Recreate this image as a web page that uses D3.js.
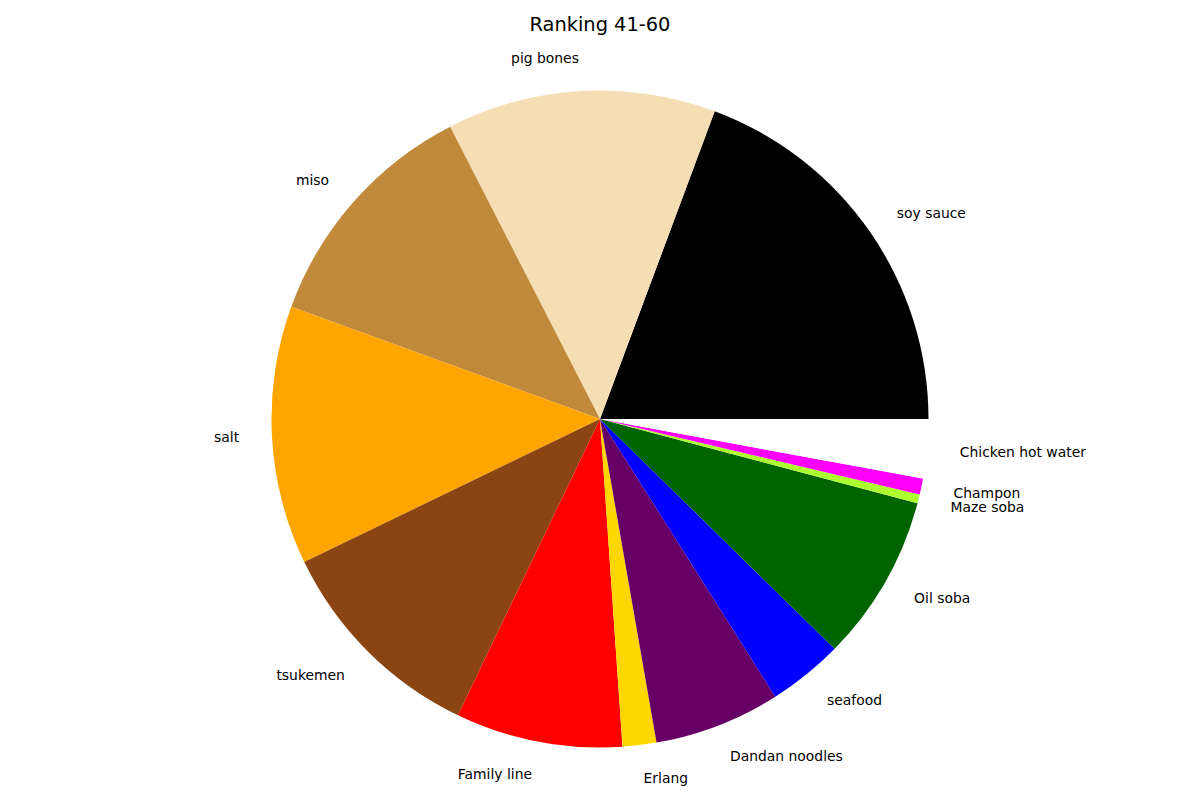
<!DOCTYPE html>
<html>
<head>
<meta charset="utf-8">
<script src="https://cdn.jsdelivr.net/npm/d3@7"></script>
<style>
  body { margin: 0; background: #fff; }
  text { font-family: "DejaVu Sans", sans-serif; }
</style>
</head>
<body>
<div id="chart"></div>
<script>
var labels = ["soy sauce", "pig bones", "miso", "salt", "tsukemen", "Family line", "Erlang",
    "Dandan noodles", "seafood", "Oil soba", "Maze soba", "Champon", "Chicken hot water"];
var shares = [19.3, 13.2, 11.9, 12.7, 10.7, 8.2, 1.66, 6.2, 3.7, 8.2, 0.43, 0.79, 2.9];
var colors = ["#000000", "#f5deb3", "#c08a3a", "#ffa500", "#8b4513", "#ff0000", "#ffd700",
    "#660066", "#0000ff", "#006400", "#adff2f", "#ff00ff", "#ffffff"];

var width = 1200, height = 800;
var cx = 600, cy = 419, radius = 328.5;

var svg = d3.select("#chart").append("svg")
    .attr("width", width).attr("height", height);

svg.append("text")
    .attr("x", width / 2).attr("y", 31)
    .attr("text-anchor", "middle")
    .style("font-size", "19.4px")
    .text("Ranking 41-60");

var data = labels.map(function(d, i) { return {label: d, value: shares[i], color: colors[i]}; });

// counter-clockwise from 3 o'clock, like matplotlib
var pie = d3.pie().sort(null).value(d => d.value)
    .startAngle(Math.PI / 2).endAngle(Math.PI / 2 - 2 * Math.PI);

var arc = d3.arc().innerRadius(0).outerRadius(radius);

var g = svg.append("g").attr("transform", "translate(" + cx + "," + cy + ")");

var arcs = pie(data);

g.selectAll("path").data(arcs).enter().append("path")
    .attr("d", arc)
    .attr("fill", d => d.data.color);

g.selectAll("text.lbl").data(arcs).enter().append("text")
    .attr("class", "lbl")
    .attr("x", function(d) { var a = (d.startAngle + d.endAngle) / 2; return 1.1 * radius * Math.sin(a); })
    .attr("y", function(d) { var a = (d.startAngle + d.endAngle) / 2; return -1.1 * radius * Math.cos(a); })
    .attr("dy", "0.35em")
    .attr("text-anchor", function(d) { var a = (d.startAngle + d.endAngle) / 2; return Math.sin(a) > 0 ? "start" : "end"; })
    .style("font-size", "13.9px")
    .text(d => d.data.label);
</script>
</body>
</html>
